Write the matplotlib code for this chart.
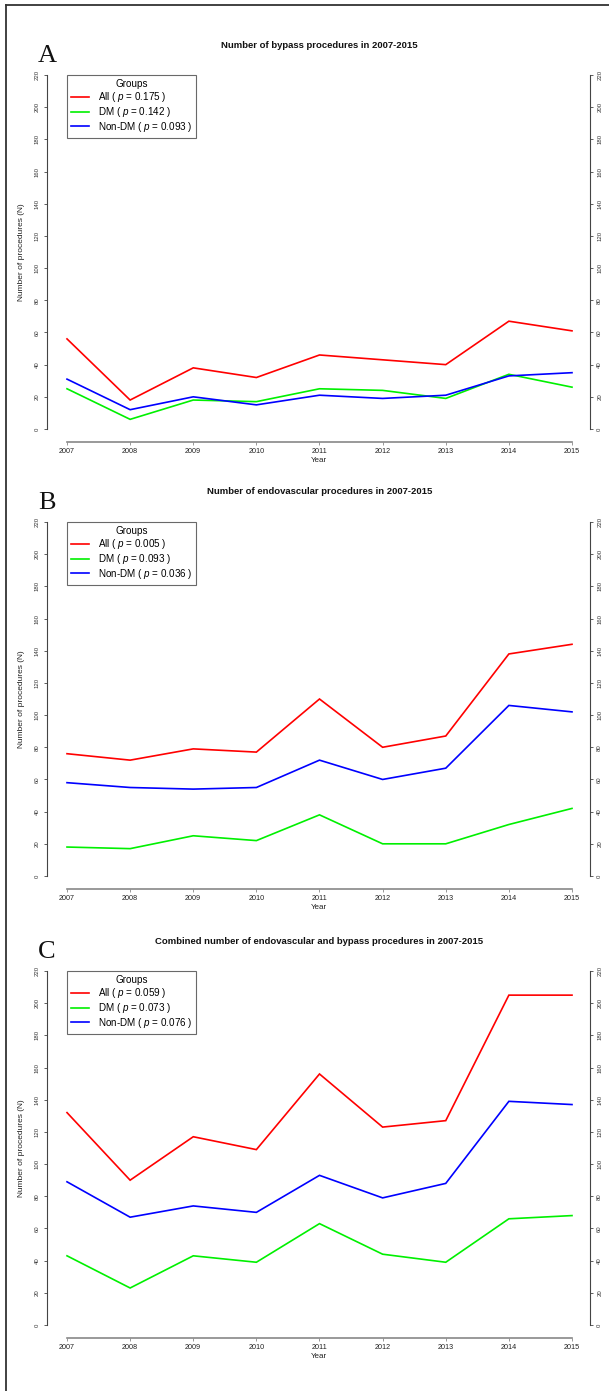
import matplotlib
matplotlib.use('Agg')
import matplotlib.pyplot as plt
from matplotlib.lines import Line2D

plt.rcParams['font.family'] = ['Liberation Sans', 'DejaVu Sans']
plt.rcParams['mathtext.fontset'] = 'custom'
plt.rcParams['mathtext.it'] = 'Liberation Sans:italic'
plt.rcParams['mathtext.rm'] = 'Liberation Sans'

W, H = 609, 1391

years = [2007, 2008, 2009, 2010, 2011, 2012, 2013, 2014, 2015]

# A: bypass
bypass_all = [56, 18, 38, 32, 46, 43, 40, 67, 61]
bypass_dm = [25, 6, 18, 17, 25, 24, 19, 34, 26]
bypass_nondm = [31, 12, 20, 15, 21, 19, 21, 33, 35]
# B: endovascular
endo_all = [76, 72, 79, 77, 110, 80, 87, 138, 144]
endo_dm = [18, 17, 25, 22, 38, 20, 20, 32, 42]
endo_nondm = [58, 55, 54, 55, 72, 60, 67, 106, 102]
# C: combined
comb_all = [132, 90, 117, 109, 156, 123, 127, 205, 205]
comb_dm = [43, 23, 43, 39, 63, 44, 39, 66, 68]
comb_nondm = [89, 67, 74, 70, 93, 79, 88, 139, 137]

panel_letters = ['A', 'B', 'C']
titles = ['Number of bypass procedures in 2007-2015',
          'Number of endovascular procedures in 2007-2015',
          'Combined number of endovascular and bypass procedures in 2007-2015']
pvals = [('0.175', '0.142', '0.093'),
         ('0.005', '0.093', '0.036'),
         ('0.059', '0.073', '0.076')]
series = [(bypass_all, bypass_dm, bypass_nondm),
          (endo_all, endo_dm, endo_nondm),
          (comb_all, comb_dm, comb_nondm)]
group_names = ['All', 'DM', 'Non-DM']
colors = ['#FF0000', '#00F000', '#0000FF']

fig = plt.figure(figsize=(W / 100, H / 100), dpi=100)

# outer frame (left and top)
fig.add_artist(Line2D([6 / W, 6 / W], [0, 1 - 5 / H], transform=fig.transFigure,
                      color='#333333', lw=1.3))
fig.add_artist(Line2D([6 / W, 1], [1 - 5 / H, 1 - 5 / H], transform=fig.transFigure,
                      color='#333333', lw=1.3))

tops = [75, 522, 971]
x_left, x_right = 47, 590
x0px, x1px = 67, 572
ppy = (x1px - x0px) / 8.0
ymax = 220
span = 354      # px from 0 to 220
gap = 13        # px from 0 to x axis line

for i in range(3):
    top = tops[i]
    bottom = top + span + gap
    ax = fig.add_axes([x_left / W, 1 - bottom / H, (x_right - x_left) / W, (bottom - top) / H])
    ax.set_xlim(2007 - (x0px - x_left) / ppy, 2015 + (x_right - x1px) / ppy)
    ax.set_ylim(-gap * ymax / span, ymax)

    for vals, c in zip(series[i], colors):
        ax.plot(years, vals, color=c, lw=1.2, solid_joinstyle='miter')

    ax.spines['top'].set_visible(False)
    ax.spines['left'].set_bounds(0, 220)
    ax.spines['right'].set_bounds(0, 220)
    ax.spines['bottom'].set_bounds(2007, 2015)
    for s in ['left', 'right']:
        ax.spines[s].set_color('#444444')
        ax.spines[s].set_linewidth(0.8)
    ax.spines['bottom'].set_color('#888888')
    ax.spines['bottom'].set_linewidth(1.2)

    ax.set_yticks(range(0, 221, 20))
    ax.set_xticks(years)
    ax.tick_params(axis='y', which='both', left=True, right=True, labelleft=True,
                   labelright=True, length=2.2, width=0.6, color='#444444',
                   labelsize=4.3, labelcolor='#333333', labelrotation=90, pad=3)
    for lab in ax.get_yticklabels():
        lab.set_va('center')
    ax.tick_params(axis='x', length=2, width=0.6, color='#888888', labelsize=5.2,
                   labelcolor='#222222', pad=2)

    ax.set_xlabel('Year', fontsize=5.8, labelpad=1.5, color='#222222')
    ax.set_ylabel('Number of procedures (N)', fontsize=6.0, color='#222222')
    ax.yaxis.set_label_coords(-(x_left - 25) / (x_right - x_left), (span / 2 + gap) / (span + gap))

    labels = [r'%s ( $p$ = %s )' % (g, p) for g, p in zip(group_names, pvals[i])]
    handles = [Line2D([], [], color=c, lw=1.2) for c in colors]
    leg = ax.legend(handles, labels, title='Groups', loc='upper left',
                    bbox_to_anchor=((x0px - x_left) / (x_right - x_left), 1.0),
                    fontsize=7.1, title_fontsize=7.1, frameon=True, fancybox=False,
                    edgecolor='#444444', borderpad=0.45, handlelength=1.8,
                    handletextpad=0.85, labelspacing=0.08, borderaxespad=0)
    leg.get_frame().set_linewidth(0.8)

    # title and panel letter
    fig.text(((x0px + x1px) / 2) / W, 1 - (top - 30) / H, titles[i], ha='center',
             va='center', fontsize=6.8, fontweight='bold', color='#111111')
    fig.text(47 / W, 1 - (top - 13) / H, panel_letters[i], ha='center', va='baseline',
             fontsize=19, family=['Liberation Serif', 'DejaVu Serif'], color='#111111')

fig.savefig('out.png', dpi=100)
